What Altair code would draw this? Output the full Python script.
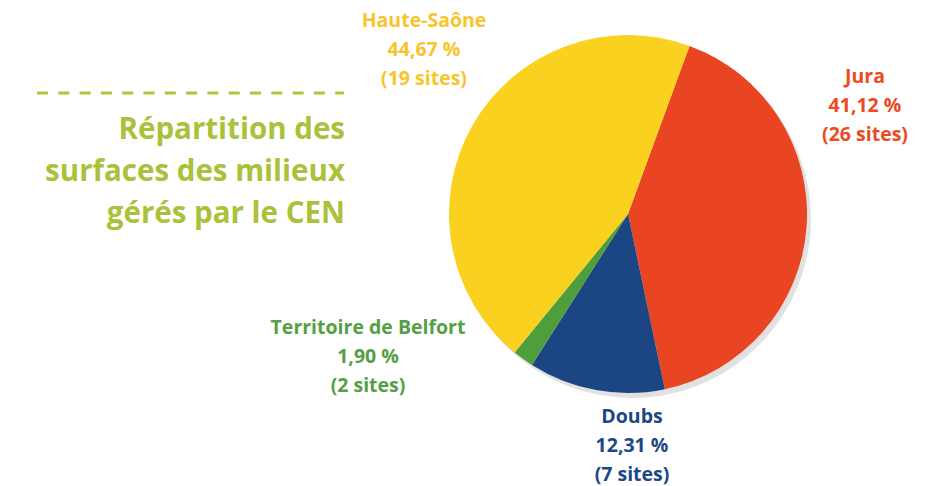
import math
import altair as alt
import pandas as pd

regions = ["Jura", "Doubs", "Territoire de Belfort", "Haute-Saône"]
shares = [41.12, 12.31, 1.90, 44.67]
sites = [26, 7, 2, 19]
share_labels = ["41,12 %", "12,31 %", "1,90 %", "44,67 %"]
slice_colors = ["#E94522", "#1B4583", "#4F9E3D", "#F9D11E"]
label_colors = ["#EE4A22", "#1D4785", "#55A044", "#F7C52B"]

df = pd.DataFrame({
    "region": regions,
    "share": shares,
    "order": list(range(len(regions))),
    "label": [[r, s, f"({n} sites)"] for r, s, n in zip(regions, share_labels, sites)],
})

OFF = 8  # page margin
cx, cy, R = 628 - OFF, 214 - OFF, 179
start = math.radians(20.1)
theta_scale = alt.Scale(range=[start, start + 2 * math.pi])

base = alt.Chart(df)

shadow = base.mark_arc(radius=R, color="#d9d9d9", opacity=0.8).encode(
    theta=alt.Theta("share:Q", stack=True, scale=theta_scale),
    order=alt.Order("order:Q"),
    x=alt.value(cx + 4), y=alt.value(cy + 5),
)

pie = base.mark_arc(radius=R).encode(
    theta=alt.Theta("share:Q", stack=True, scale=theta_scale),
    order=alt.Order("order:Q"),
    color=alt.Color("region:N", scale=alt.Scale(domain=regions, range=slice_colors), legend=None),
    x=alt.value(cx), y=alt.value(cy),
)

label_pos = {
    "Jura": (865, 77),
    "Doubs": (632, 417),
    "Territoire de Belfort": (368, 328),
    "Haute-Saône": (424, 21),
}

labels = []
for r, col in zip(regions, label_colors):
    px, py = label_pos[r]
    labels.append(
        base.transform_filter(alt.datum.region == r).mark_text(
            font="Open Sans", fontWeight="bold", fontSize=19.5, color=col,
            align="center", baseline="middle", lineHeight=29,
        ).encode(text="label", x=alt.value(px - OFF), y=alt.value(py - OFF))
    )

title_lines = ["Répartition des", "surfaces des milieux", "gérés par le CEN"]
title = alt.Chart(pd.DataFrame({"t": [title_lines]})).mark_text(
    font="Open Sans", fontWeight="bold", fontSize=29.5, color="#A9C23A",
    align="right", baseline="alphabetic", lineHeight=42,
).encode(text="t", x=alt.value(345 - OFF), y=alt.value(139 - OFF))

dash = alt.Chart(pd.DataFrame({"a": [0]})).mark_rule(
    color="#B3C530", strokeWidth=3.2, strokeDash=[11, 10.3],
).encode(x=alt.value(37 - OFF), x2=alt.value(344 - OFF), y=alt.value(93 - OFF))

chart = alt.layer(shadow, pie, *labels, title, dash).properties(
    width=911, height=478, padding=0, autosize=alt.AutoSizeParams(type="none"),
).configure_view(stroke=None)

chart.save("out.html", embed_options={"renderer": "svg", "actions": False})
